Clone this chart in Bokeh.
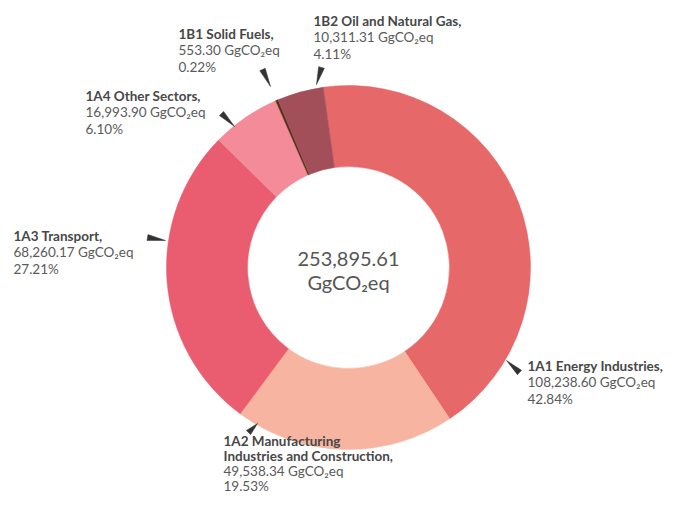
import math
from bokeh.plotting import figure
from bokeh.models import Range1d, ColumnDataSource
from bokeh.core.properties import value
from bokeh.embed import file_html
from bokeh.resources import INLINE

# ---- data ----
names = ["1A1 Energy Industries,",
         "1A2 Manufacturing\nIndustries and Construction,",
         "1A3 Transport,",
         "1A4 Other Sectors,",
         "1B1 Solid Fuels,",
         "1B2 Oil and Natural Gas,"]
values = [108238.60, 49538.34, 68260.17, 16993.90, 553.30, 10311.31]
pcts = [42.84, 19.53, 27.21, 6.10, 0.22, 4.11]
total_label = "253,895.61"
unit = "GgCO\u2082eq"
colors = ["#E66868", "#F7B5A1", "#EA5C6F", "#F38B99", "#5B3417", "#A34F5A"]

# ---- layout (picture pixel coordinates, y downward) ----
W, H = 670, 496
CX, CY = 348, 267
R_OUT, R_IN = 182, 101
START_DEG = 98.0  # first slice starts slightly left of top, goes clockwise
label_pos = [(527, 365), (223, 440), (13, 235), (85, 95), (178, 33), (313, 20)]
line_h = [16.7, 15.3, 16.7, 16.7, 16.7, 16.7]
arrow_pos = [((506, 360), (519, 372)), ((257, 423), (248, 432)), ((165, 240), (147, 237)),
             ((234, 126), (221, 113)), ((270, 86), (262, 69)), ((316, 84), (321, 67))]
FONT = "Lato"
FS = "13.5px"


def fy(y):
    return H - y


p = figure(width=W, height=H, output_backend="svg", toolbar_location=None,
           x_range=Range1d(0, W), y_range=Range1d(0, H),
           min_border=0, outline_line_color=None, background_fill_color="white",
           border_fill_color="white")
p.axis.visible = False
p.grid.visible = False

# wedges
tot = sum(pcts)
starts, ends = [], []
cum = 0.0
for v in pcts:
    a0 = START_DEG - cum / tot * 360
    cum += v
    a1 = START_DEG - cum / tot * 360
    starts.append(math.radians(a0))
    ends.append(math.radians(a1))
src = ColumnDataSource(dict(start=starts, end=ends, color=colors,
                            x=[CX] * len(pcts), y=[fy(CY)] * len(pcts)))
p.annular_wedge(x="x", y="y", inner_radius=R_IN, outer_radius=R_OUT,
                start_angle="start", end_angle="end", direction="clock",
                fill_color="color", line_color="color", line_width=0.5, source=src)

# center text
p.text(x=[CX], y=[fy(CY - 9)], text=[total_label], text_font=value(FONT),
       text_font_size="20px", text_color="#555555", text_align="center",
       text_baseline="middle")
p.text(x=[CX], y=[fy(CY + 14)], text=[unit], text_font=value(FONT),
       text_font_size="20px", text_color="#555555", text_align="center",
       text_baseline="middle")

# labels
bx, by, bt, rx, ry, rt = [], [], [], [], [], []
for (lx, ly), lh, nm, v, pc in zip(label_pos, line_h, names, values, pcts):
    yy = ly
    for ln in nm.split("\n"):
        bx.append(lx); by.append(fy(yy)); bt.append(ln)
        yy += lh
    for ln in [f"{v:,.2f} {unit}", f"{pc:.2f}%"]:
        rx.append(lx); ry.append(fy(yy)); rt.append(ln)
        yy += lh
p.text(x=bx, y=by, text=bt, text_font=value(FONT), text_font_style="bold",
       text_font_size=FS, text_color="#474747", text_baseline="middle",
       text_align="left")
p.text(x=rx, y=ry, text=rt, text_font=value(FONT), text_font_size=FS,
       text_color="#5a5a5a", text_baseline="middle", text_align="left")

# pointer arrows
xs, ys = [], []
for (tx, ty), (sx, sy) in arrow_pos:
    dx, dy = tx - sx, ty - sy
    L = math.hypot(dx, dy)
    nx, ny = -dy / L * 3.0, dx / L * 3.0
    xs.append([tx, sx + nx, sx - nx])
    ys.append([fy(ty), fy(sy + ny), fy(sy - ny)])
p.patches(xs=xs, ys=ys, fill_color="#333333", line_color="#333333", line_width=0.5)

open("out.html", "w").write(file_html(p, INLINE))
